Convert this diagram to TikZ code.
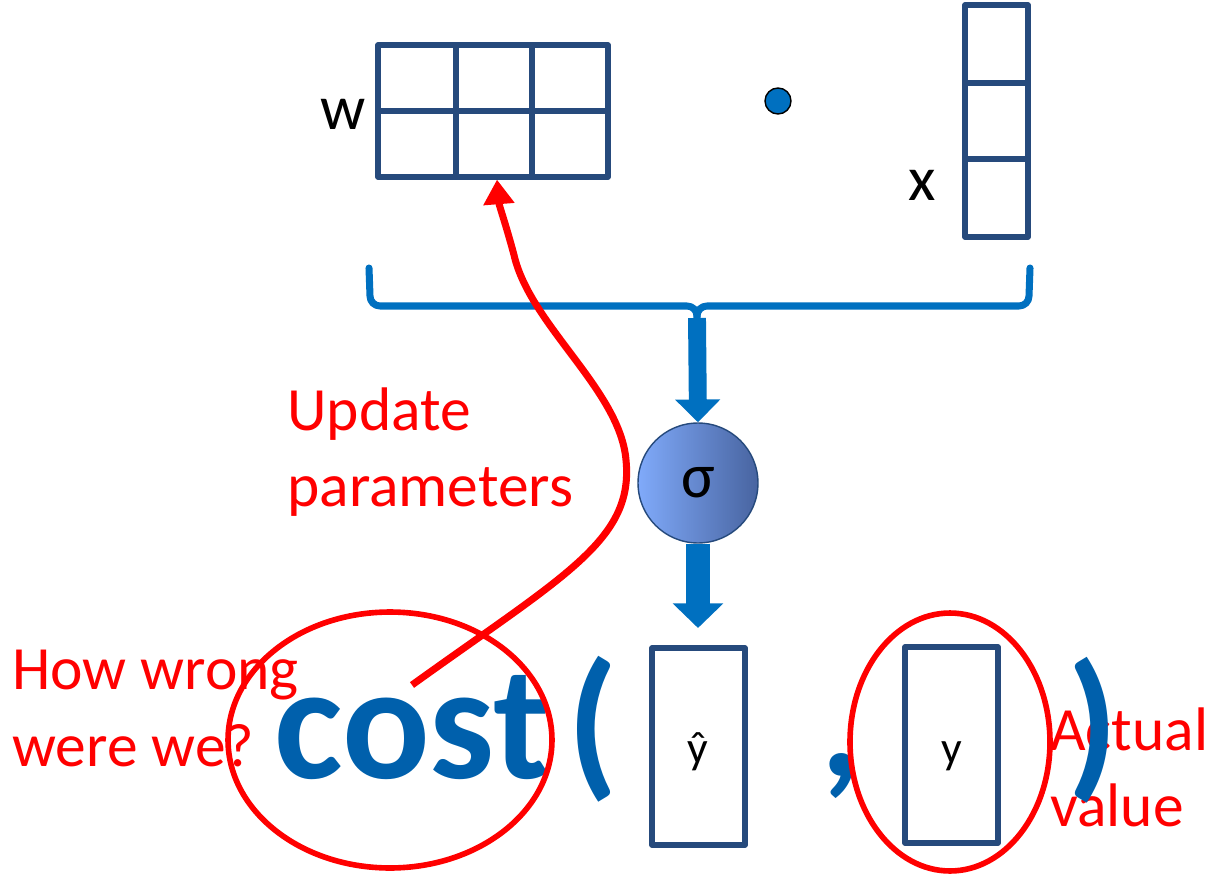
\documentclass[tikz,border=0pt]{standalone}
\usepackage{fontspec}
\setmainfont{Carlito}
\usetikzlibrary{arrows.meta,shapes.geometric}
\definecolor{gridblue}{RGB}{38,74,124}
\definecolor{brblue}{RGB}{0,112,192}
\definecolor{costblue}{RGB}{0,96,172}
\definecolor{myred}{RGB}{255,0,0}
\definecolor{sigL}{RGB}{128,170,250}
\definecolor{sigR}{RGB}{72,100,160}
\begin{document}
\begin{tikzpicture}[x=0.02cm,y=-0.02cm,
  gridbox/.style={draw=gridblue, line width=3pt, line join=round, inner sep=0pt},
  gridline/.style={draw=gridblue, line width=3pt},
  lbl/.style={font=\fontsize{36}{43}\selectfont, anchor=base west, inner sep=0pt},
  redlbl/.style={font=\fontsize{35}{42}\selectfont, anchor=base west, inner sep=0pt, text=myred},
  small/.style={font=\fontsize{26}{30}\selectfont, inner sep=0pt},
  big/.style={font=\fontsize{93}{100}\selectfont\bfseries, text=costblue, inner sep=0pt},
  bracestyle/.style={draw=brblue, line width=4pt, line cap=round, line join=round},
  arrowA/.style={draw=brblue, line width=10.2pt, -{Triangle[width=25pt,length=13pt]}},
  arrowB/.style={draw=brblue, line width=13.5pt, -{Triangle[width=28pt,length=14pt]}},
  redloop/.style={draw=myred, line width=4pt, -{Triangle[width=17pt,length=14pt]}},
  redring/.style={ellipse, draw=myred, line width=3.2pt, inner sep=0pt}
]
\useasboundingbox (0,0) rectangle (1214,875);

% W matrix
\node[gridbox, minimum width=4.6cm, minimum height=2.64cm] (W) at (493,111) {};
\draw[gridline] (W.north -| 456,0) -- (W.south -| 456,0);
\draw[gridline] (W.north -| 532,0) -- (W.south -| 532,0);
\draw[gridline] (W.west) -- (W.east);
\node[lbl] (wl) at (320,130) {w};

% dot
\node[circle, fill=brblue, draw=black, line width=0.8pt, minimum width=0.52cm, inner sep=0pt] (dot) at (778,101) {};

% x vector
\node[gridbox, minimum width=1.26cm, minimum height=4.64cm] (X) at (996.5,121) {};
\draw[gridline] (X.west |- 0,83) -- (X.east |- 0,83);
\draw[gridline] (X.west |- 0,159) -- (X.east |- 0,159);
\node[lbl] (xl) at (908,200) {x};

% brace
\coordinate (bl) at (369,268);
\coordinate (br) at (1030,268);
\coordinate (bt) at (697,318);
\draw[bracestyle] (bl) -- (370,296) to[out=-90,in=180] (380,306) -- (687,306)
  to[out=0,in=90] (697,316) -- (697,340);
\draw[bracestyle] (br) -- (1029,296) to[out=-90,in=0] (1019,306) -- (707,306)
  to[out=180,in=90] (697,316);

% sigma
\node[circle, minimum size=2.4cm, draw=gridblue, line width=0.8pt, left color=sigL, right color=sigR,
      font=\fontsize{36}{40}\selectfont, inner sep=0pt] (sig) at (698,483) {σ};

\draw[arrowA] (bt) -- (sig.north);
\coordinate (a2) at (698,628);
\draw[arrowB] (sig.south) -- (a2);

% yhat and y boxes
\node[gridbox, minimum width=1.86cm, minimum height=3.94cm] (yh) at (698.5,746.5) {};
\node[small] (yhl) at (698,752) {ŷ};
\node[gridbox, minimum width=1.86cm, minimum height=3.92cm] (yy) at (951.5,745) {};
\node[small] (yyl) at (952,756) {y};

% labels
\node[redlbl] (up1) at (287,430) {Update};
\node[redlbl] (up2) at (287,506) {parameters};
\node[redlbl] (hw1) at (12,689) {How wrong};
\node[redlbl] (hw2) at (12,766) {were we?};
\node[redlbl] (av1) at (1050,750) {Actual};
\node[redlbl] (av2) at (1050,826) {value};

% cost( , )
\node[big, anchor=base west] (cost) at (274,778) {cost};
\node[big] (lp) at (593,729) {(};
\node[big] (cm) at (842,776) {,};
\node[big] (rp) at (1093,730) {)};

% red rings
\node[redring, minimum width=6.48cm, minimum height=5.12cm] (ce) at (390,740) {};
\node[redring, minimum width=4cm, minimum height=5.16cm] (ye) at (950,742) {};

% red update arrow
\coordinate (rs) at (412,685);
\coordinate (wt) at (497,0);
\draw[redloop] (rs) .. controls (565,575) and (634,540) .. (626,460)
  .. controls (620,390) and (530,325) .. (514,255)
  .. controls (506,225) and (499,205) .. (W.south -| wt);
\end{tikzpicture}
\end{document}
